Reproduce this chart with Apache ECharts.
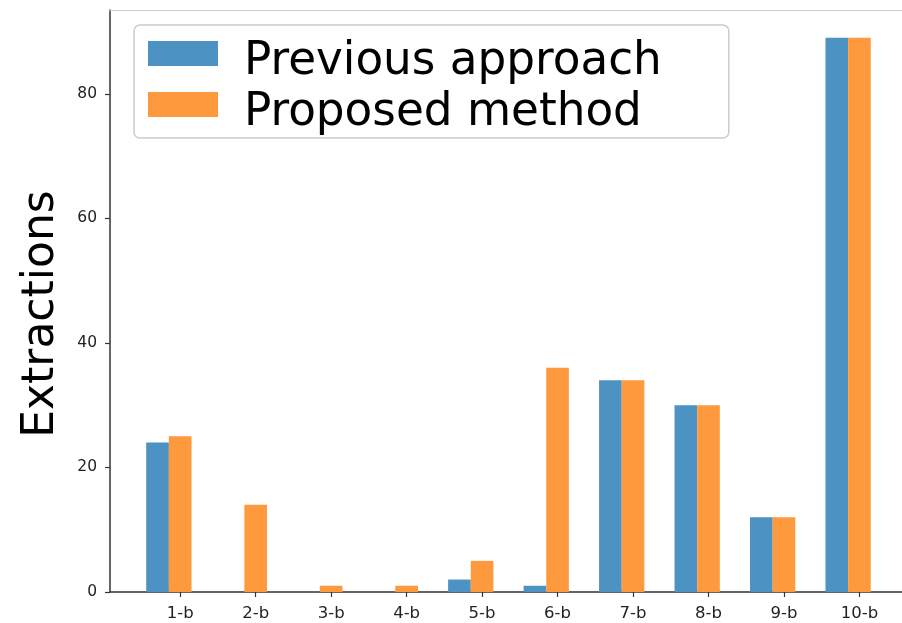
<!DOCTYPE html>
<html>
<head>
<meta charset="utf-8">
<script src="https://cdn.jsdelivr.net/npm/echarts@6/dist/echarts.min.js"></script>
<style>html,body{margin:0;padding:0;background:#fff;}#c{width:902px;height:623px;}</style>
</head>
<body>
<div id="c"></div>
<script>
const categories = ['1-b','2-b','3-b','4-b','5-b','6-b','7-b','8-b','9-b','10-b'];
const previousApproach = [24, 0, 0, 0, 2, 1, 34, 30, 12, 89];
const proposedMethod = [25, 14, 1, 1, 5, 36, 34, 30, 12, 89];
const yTicks = [0, 20, 40, 60, 80];
const seriesNames = ['Previous approach', 'Proposed method'];

const W = 0.3; // bar width in category units
const blueData = previousApproach.map((v, i) => [i + 1 - W / 2, v]);
const orangeData = proposedMethod.map((v, i) => [i + 1 + W / 2, v]);
const tickPos = categories.map((c, i) => i + 1 + W / 2);
const xMin = 1 - W - 0.048 * 10;
const xMaxFull = 10 + W + 0.048 * 10;
const fullWidth = 797;            // axes width of the original (extends past the picture)
const gridLeft = 110, gridWidth = 792;
const xMax = xMin + (xMaxFull - xMin) * gridWidth / fullWidth;
const yMax = 89 * 1.05;
const barPx = gridWidth / (xMax - xMin) * W;

const chart = echarts.init(document.getElementById('c'));

chart.setOption({
  animation: false,
  grid: { left: gridLeft, width: gridWidth, top: 10, bottom: 31, containLabel: false },
  legend: {
    data: seriesNames,
    orient: 'vertical',
    left: 134, top: 25,
    itemWidth: 70, itemHeight: 25, itemGap: -3,
    padding: [6, 67, 2, 14],
    backgroundColor: 'rgba(255,255,255,0.8)',
    borderColor: '#cccccc', borderWidth: 1.5, borderRadius: 6,
    icon: 'rect',
    formatter: name => '{t|' + name + '}',
    textStyle: {
      fontFamily: 'DejaVu Sans', fontSize: 45.3, color: '#000',
      rich: { t: { fontFamily: 'DejaVu Sans', fontSize: 45.3, color: '#000', height: 27, lineHeight: 27, padding: [18, 0, 0, 21] } }
    }
  },
  xAxis: [{
    type: 'value', min: xMin, max: xMax,
    axisLine: { show: true, lineStyle: { color: '#333', width: 1.5 } },
    axisTick: { show: true, customValues: tickPos, length: 5, lineStyle: { color: '#333', width: 1.2 } },
    axisLabel: {
      customValues: tickPos, margin: 13,
      fontFamily: 'DejaVu Sans', fontSize: 16.5, color: '#222',
      formatter: v => categories[Math.round(v - W / 2) - 1]
    },
    splitLine: { show: false }
  }, {
    type: 'value', min: xMin, max: xMax, position: 'top',
    axisLine: { show: true, lineStyle: { color: '#cccccc', width: 1.2 } },
    axisTick: { show: false }, axisLabel: { show: false }, splitLine: { show: false }
  }],
  yAxis: {
    type: 'value', min: 0, max: yMax,
    name: 'Extractions', nameLocation: 'middle', nameGap: 46, nameRotate: 90,
    nameTextStyle: { fontFamily: 'DejaVu Sans', fontSize: 44, color: '#000', padding: [0, 26, 0, 0] },
    axisLine: { show: true, lineStyle: { color: '#333', width: 1.5 } },
    axisTick: { show: true, customValues: yTicks, length: 5, lineStyle: { color: '#333', width: 1.2 } },
    axisLabel: { customValues: yTicks, margin: 13, fontFamily: 'DejaVu Sans', fontSize: 15.5, color: '#222' },
    splitLine: { show: false }
  },
  series: [{
    name: seriesNames[0], type: 'bar', xAxisIndex: 0, data: blueData,
    barWidth: barPx, barGap: '-100%',
    itemStyle: { color: '#4c92c3' }
  }, {
    name: seriesNames[1], type: 'bar', xAxisIndex: 0, data: orangeData,
    barWidth: barPx, barGap: '-100%',
    itemStyle: { color: '#ff993e' }
  }]
});
</script>
</body>
</html>
